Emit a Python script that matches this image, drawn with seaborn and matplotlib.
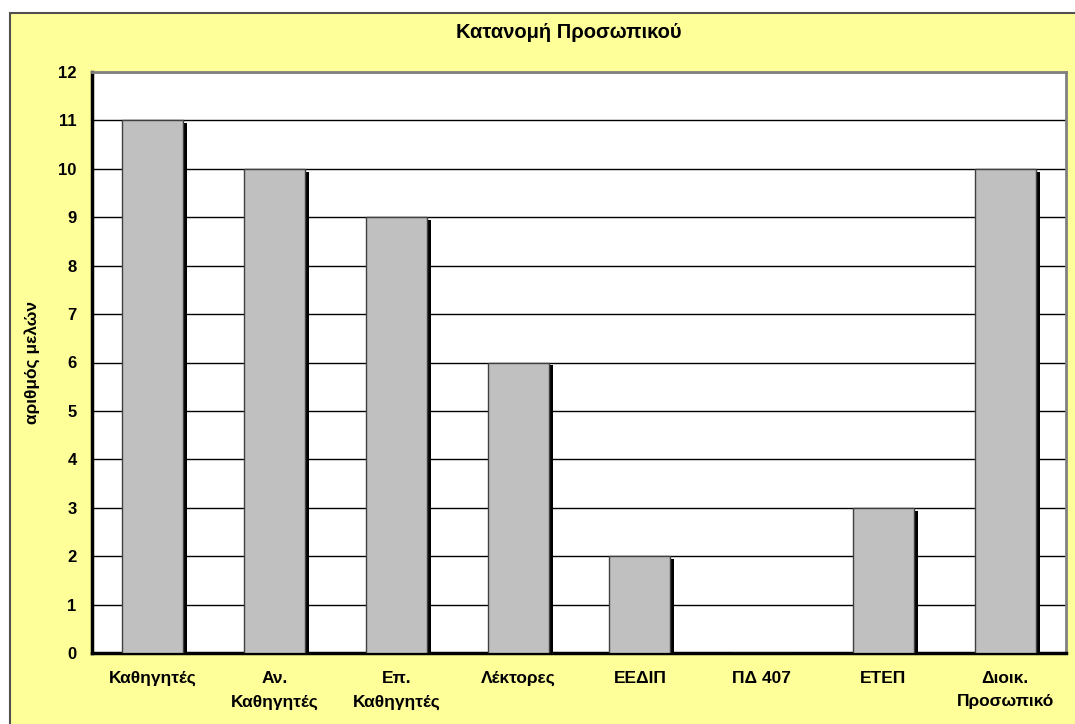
import matplotlib
matplotlib.use("Agg")
import matplotlib.pyplot as plt
import matplotlib.patheffects as pe
from matplotlib.patches import Rectangle
import seaborn as sns
import numpy as np

categories = ["Καθηγητές", "Αν.\nΚαθηγητές", "Επ.\nΚαθηγητές", "Λέκτορες",
              "ΕΕΔΙΠ", "ΠΔ 407", "ΕΤΕΠ", "Διοικ.\nΠροσωπικό"]
values = [11, 10, 9, 6, 2, 0, 3, 10]
yticks = list(range(0, 13))

sns.set_style("white")
FONT = 'Liberation Sans'
plt.rcParams['font.family'] = FONT
plt.rcParams['font.weight'] = 'bold'
plt.rcParams['text.color'] = 'black'
plt.rcParams['axes.labelcolor'] = 'black'
plt.rcParams['xtick.color'] = 'black'
plt.rcParams['ytick.color'] = 'black'

W, H = 1075, 724
fig = plt.figure(figsize=(W / 100, H / 100), dpi=100, facecolor='white')

# yellow chart area with dark border (cropped at right/bottom)
fig.patches.append(Rectangle((10 / W, -0.01), 1.0, 1 - 13 / H + 0.01,
                             transform=fig.transFigure, facecolor='#FFFF99',
                             edgecolor='#505050', linewidth=1.5, zorder=-10))

ax = fig.add_axes([92 / W, 1 - 653 / H, 974 / W, (653 - 72) / H])
ax.set_zorder(1)
ax.set_facecolor('white')

sns.barplot(x=categories, y=values, color='#C0C0C0', width=0.5,
            edgecolor='#404040', linewidth=1, saturation=1, ax=ax, zorder=3)
for p in ax.patches:
    p.set_path_effects([pe.SimplePatchShadow(offset=(3, -2), shadow_rgbFace='black', alpha=1),
                        pe.Normal()])

ax.set_ylim(0, 12)
ax.set_xlim(-0.5, len(categories) - 0.5)
ax.set_yticks(yticks)
ax.set_yticklabels([str(t) for t in yticks], family=FONT, fontweight='bold', fontsize=12)
ax.yaxis.grid(True, color='black', linewidth=1)
ax.set_axisbelow(True)

# tick marks between categories, labels at centres
ax.set_xticks(np.arange(len(categories)))
ax.set_xticklabels(categories, family=FONT, fontsize=12.5, fontweight='bold', linespacing=1.7)
ax.set_xticks(np.arange(len(categories) + 1) - 0.5, minor=True)
ax.tick_params(axis='x', which='major', length=0, pad=13)
ax.tick_params(axis='x', which='minor', length=5, width=2, direction='out', color='black')
ax.tick_params(axis='y', length=5, width=2, direction='out', color='black', pad=6)

for s in ['left', 'bottom']:
    ax.spines[s].set_color('black')
    ax.spines[s].set_linewidth(2.5)
for s in ['top', 'right']:
    ax.spines[s].set_color('#808080')
    ax.spines[s].set_linewidth(2)

ax.set_xlabel('')
ax.set_ylabel('αριθμός μελών', family=FONT, fontsize=12.5, fontweight='bold')
ax.yaxis.set_label_coords(-0.053, 0.5)

fig.text(569 / W, 1 - 33 / H, 'Κατανομή Προσωπικού', ha='center', va='center',
         family=FONT, fontsize=14.5, fontweight='bold')

fig.savefig('out.png', dpi=100, facecolor='white')
